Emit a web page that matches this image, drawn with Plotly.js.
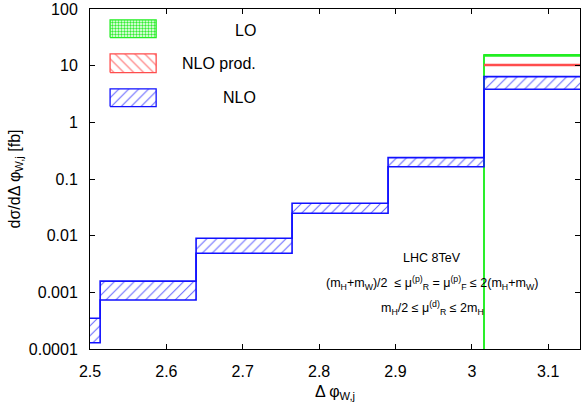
<!DOCTYPE html>
<html>
<head>
<meta charset="utf-8">
<script src="https://cdn.plot.ly/plotly-3.0.1.min.js"></script>
<style>html,body{margin:0;padding:0;background:#fff;}#chart{width:581px;height:406px;}</style>
</head>
<body>
<div id="chart"></div>
<script>
// ---- data ----
const binEdges = [2.5, 2.5133, 2.6389, 2.7646, 2.8903, 3.0159, 3.1416];
const nloHigh = [3.48e-4, 1.58e-3, 9.0e-3, 0.0373, 0.238, 6.4];
const nloLow  = [1.29e-4, 7.33e-4, 4.89e-3, 0.0248, 0.165, 3.83];
const nloProdHigh = [null, null, null, null, null, 10.5];
const nloProdLow  = [null, null, null, null, null, 10.0];
const loHigh = [0, 0, 0, 0, 0, 15.6];
const loLow  = [0, 0, 0, 0, 0, 14.9];
const yTickVals = [1e-4, 1e-3, 1e-2, 0.1, 1, 10, 100];
const yTickText = ['0.0001', '0.001', '0.01', '0.1', '1', '10', '100'];
const legendNames = ['LO', 'NLO prod.', 'NLO'];
const infoLines = [
  'LHC 8TeV',
  '(m<sub>H</sub>+m<sub>W</sub>)/2  ≤ μ<sup>(p)</sup><sub>R</sub> = μ<sup>(p)</sup><sub>F</sub> ≤ 2(m<sub>H</sub>+m<sub>W</sub>)',
  'm<sub>H</sub>/2 ≤ μ<sup>(d)</sup><sub>R</sub> ≤ 2m<sub>H</sub>'
];

// ---- helpers ----
const Y_MIN_LOG = -4, Y_MAX_LOG = 2;
const FLOOR = Math.pow(10, Y_MIN_LOG - 2);
function steps(edges, vals) {
  const xs = [], ys = [];
  for (let i = 0; i < vals.length; i++) {
    if (vals[i] === null) continue;
    const v = vals[i] <= 0 ? FLOOR : vals[i];
    xs.push(edges[i], edges[i + 1]);
    ys.push(v, v);
  }
  return {x: xs, y: ys};
}
function band(name, hi, lo, lineColor, pat, w) {
  const up = steps(binEdges, hi), dn = steps(binEdges, lo);
  return [
    {x: up.x, y: up.y, type: 'scatter', mode: 'lines', line: {color: lineColor, width: w}, showlegend: false, hoverinfo: 'skip', name: name},
    {x: dn.x, y: dn.y, type: 'scatter', mode: 'lines', line: {color: lineColor, width: w}, fill: 'tonexty', fillcolor: 'rgba(0,0,0,0)',
     fillpattern: pat, showlegend: false, hoverinfo: 'skip', name: name}
  ];
}

const green = '#22ee22', red = '#ff4d4d', blue = '#1111ff';
const patLO = {shape: '.', size: 3, solidity: 0.5, fgcolor: '#33ee33', bgcolor: 'rgba(0,0,0,0)'};
const patNP = {shape: '\\', size: 7, solidity: 0.15, fgcolor: '#ff6666', bgcolor: 'rgba(0,0,0,0)'};
const patNLO = {shape: '/', size: 7, solidity: 0.15, fgcolor: '#6666ff', bgcolor: 'rgba(0,0,0,0)'};

let traces = [];
traces = traces.concat(band('LO', loHigh, loLow, green, patLO, 1.6));
traces = traces.concat(band('NLO prod.', nloProdHigh, nloProdLow, red, patNP, 1.3));
traces = traces.concat(band('NLO', nloHigh, nloLow, blue, patNLO, 1.6));

// ---- legend boxes drawn on an overlay axis (paper-like 0..1) ----
const legBoxes = [
  {x0: 0.041, x1: 0.135, y0: 0.916, y1: 0.968, c: '#22ee22', p: patLO},
  {x0: 0.041, x1: 0.135, y0: 0.813, y1: 0.868, c: red, p: patNP},
  {x0: 0.041, x1: 0.135, y0: 0.713, y1: 0.765, c: blue, p: patNLO}
];
legBoxes.forEach((b, i) => {
  traces.push({x: [b.x0, b.x1, b.x1, b.x0, b.x0], y: [b.y0, b.y0, b.y1, b.y1, b.y0], xaxis: 'x2', yaxis: 'y2',
    type: 'scatter', mode: 'lines', line: {color: b.c, width: 1.3}, fill: 'toself', fillcolor: 'rgba(0,0,0,0)',
    fillpattern: b.p, showlegend: false, hoverinfo: 'skip', name: legendNames[i]});
});

const font = {family: 'Liberation Sans, Arial, sans-serif', color: '#000'};
const annotations = [];
const legY = [0.938, 0.841, 0.741];
legendNames.forEach((n, i) => annotations.push({xref: 'paper', yref: 'paper', x: 0.343, y: legY[i], xanchor: 'right', yanchor: 'middle',
  text: n, showarrow: false, font: Object.assign({size: 16}, font)}));
const infoY = [0.268, 0.194, 0.12];
infoLines.forEach((t, i) => annotations.push({xref: 'paper', yref: 'paper', x: 0.698, y: infoY[i], xanchor: 'center', yanchor: 'middle',
  text: t, showarrow: false, font: Object.assign({size: 12.5}, font)}));

const layout = {
  width: 581, height: 406,
  margin: {l: 90, r: 1, t: 9, b: 57},
  paper_bgcolor: '#fff', plot_bgcolor: '#fff',
  showlegend: false,
  font: Object.assign({size: 16}, font),
  xaxis: {range: [2.5, 3.1416], tick0: 2.5, dtick: 0.1, ticks: 'inside', ticklen: 5, tickcolor: '#000',
    showline: true, linecolor: '#000', linewidth: 1, mirror: 'allticks', showgrid: false, zeroline: false,
    ticklabelstandoff: 8,
    tickfont: Object.assign({size: 16}, font),
    title: {text: 'Δ φ<sub>W,j</sub>', font: Object.assign({size: 16}, font), standoff: 6}},
  yaxis: {type: 'log', range: [Y_MIN_LOG, Y_MAX_LOG], tickvals: yTickVals, ticktext: yTickText,
    ticks: 'inside', ticklen: 5, tickcolor: '#000', showline: true, linecolor: '#000', linewidth: 1, mirror: 'allticks',
    ticklabelstandoff: 8,
    showgrid: false, zeroline: false, tickfont: Object.assign({size: 16}, font),
    title: {text: 'dσ/dΔ φ<sub>W,j</sub> [fb]', font: Object.assign({size: 16}, font), standoff: 4}},
  xaxis2: {range: [0, 1], overlaying: 'x', visible: false, fixedrange: true},
  yaxis2: {range: [0, 1], overlaying: 'y', visible: false, fixedrange: true},
  annotations: annotations
};

Plotly.newPlot('chart', traces, layout, {staticPlot: true, displayModeBar: false});
</script>
</body>
</html>
